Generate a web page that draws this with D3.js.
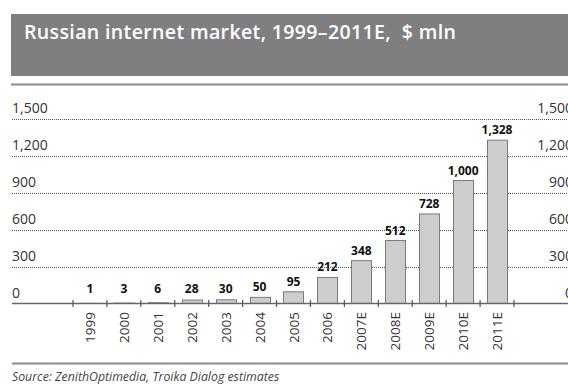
<!DOCTYPE html>
<html>
<head>
<meta charset="utf-8">
<script src="https://cdn.jsdelivr.net/npm/d3@7/dist/d3.min.js"></script>
<style>
  html, body { margin: 0; padding: 0; background: #fff; }
  svg { display: block; }
</style>
</head>
<body>
<svg id="chart" width="568" height="385"></svg>
<script>
// Russian internet market, $ mln
const years = ["1999", "2000", "2001", "2002", "2003", "2004", "2005", "2006",
               "2007E", "2008E", "2009E", "2010E", "2011E"];
const values = [1, 3, 6, 28, 30, 50, 95, 212, 348, 512, 728, 1000, 1328];
const yTicks = [0, 300, 600, 900, 1200, 1500];
const titleText = "Russian internet market, 1999\u20132011E,\u00a0\u00a0$ mln";
const sourceText = "Source: ZenithOptimedia, Troika Dialog estimates";

const W = 568, H = 385;
const svg = d3.select("#chart");
const font = "'Open Sans', 'Noto Sans', sans-serif";

// header band
svg.append("rect").attr("x", 11).attr("y", 14).attr("width", W - 11).attr("height", 62)
  .attr("fill", "#7f7f7f");
svg.append("text").attr("x", 24).attr("y", 39)
  .attr("font-family", font).attr("font-weight", 600).attr("font-size", 19.5)
  .attr("textLength", 432).attr("lengthAdjust", "spacing")
  .attr("fill", "#fff").text(titleText);
svg.append("line").attr("x1", 11).attr("x2", W).attr("y1", 84.5).attr("y2", 84.5)
  .attr("stroke", "#8a8a8a").attr("stroke-width", 2);

// scales
const x = d3.scaleBand().domain(years).range([73, 514]).paddingInner(0.41).paddingOuter(0.205);
const y = d3.scaleLinear().domain([0, 1500]).range([303.5, 119]);

// dotted gridlines
svg.append("g").selectAll("line").data(yTicks.filter(d => d > 0)).join("line")
  .attr("x1", 12).attr("x2", W)
  .attr("y1", d => Math.round(y(d)) + 0.5).attr("y2", d => Math.round(y(d)) + 0.5)
  .attr("stroke", "#555").attr("stroke-width", 1).attr("stroke-dasharray", "1,1");

// y labels on both sides
const fmt = d3.format(",");
svg.append("g").selectAll("text").data(yTicks).join("text")
  .attr("x", 12).attr("y", d => y(d) - 6)
  .attr("font-family", font).attr("font-size", 14).attr("fill", "#333")
  .text(d => fmt(d));
svg.append("g").selectAll("text").data(yTicks).join("text")
  .attr("x", 573).attr("y", d => y(d) - 6).attr("text-anchor", "end")
  .attr("font-family", font).attr("font-size", 14).attr("fill", "#333")
  .text(d => fmt(d));

// bars
svg.append("g").selectAll("rect").data(values).join("rect")
  .attr("x", (d, i) => Math.round(x(years[i])) + 0.5)
  .attr("y", d => y(d))
  .attr("width", x.bandwidth())
  .attr("height", d => y(0) - y(d))
  .attr("fill", "#cdcdcd").attr("stroke", "#7a7a7a").attr("stroke-width", 1);

// value labels
svg.append("g").selectAll("text").data(values).join("text")
  .attr("x", (d, i) => x(years[i]) + x.bandwidth() / 2)
  .attr("y", d => Math.min(y(d) - 6, 293))
  .attr("text-anchor", "middle")
  .attr("font-family", font).attr("font-weight", 700).attr("font-size", 12).attr("fill", "#111")
  .text(d => fmt(d));

// x axis baseline
svg.append("line").attr("x1", 12).attr("x2", W).attr("y1", y(0)).attr("y2", y(0))
  .attr("stroke", "#666").attr("stroke-width", 1.5);
// category boundary ticks
const step = x.step();
const edge0 = x.range()[0];
svg.append("g").selectAll("line").data(d3.range(years.length + 1)).join("line")
  .attr("x1", i => edge0 + i * step).attr("x2", i => edge0 + i * step)
  .attr("y1", y(0) - 3.5).attr("y2", y(0) + 3.5)
  .attr("stroke", "#555").attr("stroke-width", 1.2);

// rotated year labels
svg.append("g").selectAll("text").data(years).join("text")
  .attr("transform", d => `translate(${x(d) + x.bandwidth() / 2 + 5},312) rotate(-90)`)
  .attr("text-anchor", "end")
  .attr("font-family", font).attr("font-size", 13.5).attr("fill", "#333")
  .text(d => d);

// footer
svg.append("line").attr("x1", 12).attr("x2", W).attr("y1", 363.5).attr("y2", 363.5)
  .attr("stroke", "#8a8a8a").attr("stroke-width", 2);
svg.append("text").attr("x", 12).attr("y", 381)
  .attr("font-family", font).attr("font-style", "italic").attr("font-size", 12.3).attr("fill", "#444")
  .text(sourceText);
</script>
</body>
</html>
